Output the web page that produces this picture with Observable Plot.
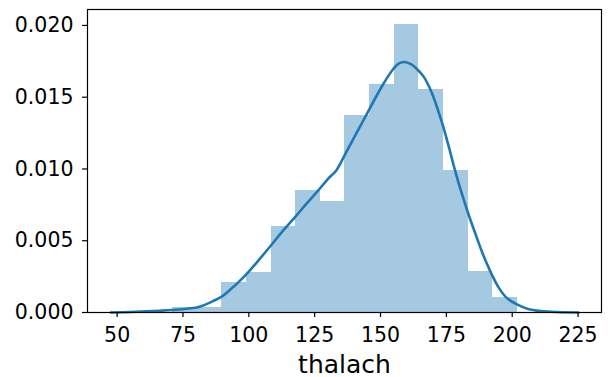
<!DOCTYPE html>
<html>
<head>
<meta charset="utf-8">
<script src="https://cdn.jsdelivr.net/npm/d3@7"></script>
<script src="https://cdn.jsdelivr.net/npm/@observablehq/plot@0.6"></script>
<style>
  html, body { margin: 0; padding: 0; background: white; }
</style>
</head>
<body>
<div id="chart"></div>
<script>
// Histogram bins of thalach (14 bins, 71..202), counts
const binEdges = [71, 80.36, 89.71, 99.07, 108.43, 117.79, 127.14, 136.5, 145.86, 155.21, 164.57, 173.93, 183.29, 192.64, 202];
const binCounts = [1, 1, 6, 8, 17, 24, 22, 39, 45, 57, 44, 28, 8, 3];
const totalCount = 303;

// KDE curve
const kdeX = [47.6, 55, 61, 67, 73.5, 78, 80.6, 83.5, 86.5, 89.7, 93, 96, 100, 104, 108.4, 113, 117.8, 122, 126.2, 130, 133.2, 136.5, 140, 144.6, 151, 155, 157, 159.2, 161.5, 163.6, 166.5, 169.5, 172, 173.9, 176, 178, 180.5, 183.3, 186, 189, 191.6, 195, 198, 202, 206, 211, 217, 225.1];
const kdeY = [0, 0.00004, 0.00008, 0.00013, 0.00021, 0.0003, 0.00037, 0.00055, 0.0008, 0.0011, 0.0016, 0.0021, 0.00285, 0.0037, 0.00467, 0.0057, 0.0067, 0.0076, 0.00847, 0.0093, 0.0099, 0.0110, 0.0122, 0.01376, 0.0159, 0.0170, 0.01735, 0.01745, 0.0173, 0.0170, 0.0164, 0.0153, 0.0140, 0.0129, 0.0115, 0.0101, 0.0085, 0.0069, 0.0055, 0.0040, 0.0029, 0.0017, 0.0010, 0.00055, 0.00025, 0.0001, 0.00003, 0];

const xTicks = [50, 75, 100, 125, 150, 175, 200, 225];
const yTicks = [0, 0.005, 0.010, 0.015, 0.020];
const xLabel = "thalach";

const bins = binCounts.map((c, i) => ({
  x1: binEdges[i],
  x2: binEdges[i + 1],
  density: c / (totalCount * (binEdges[i + 1] - binEdges[i]))
}));
const kde = kdeX.map((x, i) => ({x, y: kdeY[i]}));

const chart = Plot.plot({
  width: 611,
  height: 377,
  marginLeft: 87,
  marginRight: 10,
  marginTop: 9,
  marginBottom: 65,
  style: {fontFamily: "DejaVu Sans", fontSize: "20px", background: "white", color: "black"},
  x: {domain: [38.75, 233.9]},
  y: {domain: [0, 0.02111]},
  marks: [
    Plot.rectY(bins, {x1: "x1", x2: "x2", y: "density", fill: "#a5c9e1", inset: 0, shapeRendering: "crispEdges"}),
    Plot.line(kde, {x: "x", y: "y", stroke: "#1f77b4", strokeWidth: 2.6, curve: "catmull-rom"}),
    Plot.axisX({ticks: xTicks, tickSize: 5, tickPadding: 10, fontSize: 20.5, label: null, strokeWidth: 1.2}),
    Plot.axisY({ticks: yTicks, tickFormat: d3.format(".3f"), tickSize: 5, tickPadding: 9, fontSize: 20.5, label: null, strokeWidth: 1.2}),
    Plot.text([xLabel], {frameAnchor: "bottom", text: d => d, dy: 60, lineAnchor: "bottom", fontSize: 25, fill: "black"}),
    Plot.frame({stroke: "black", strokeWidth: 1.2})
  ]
});
document.getElementById("chart").appendChild(chart);
</script>
</body>
</html>
